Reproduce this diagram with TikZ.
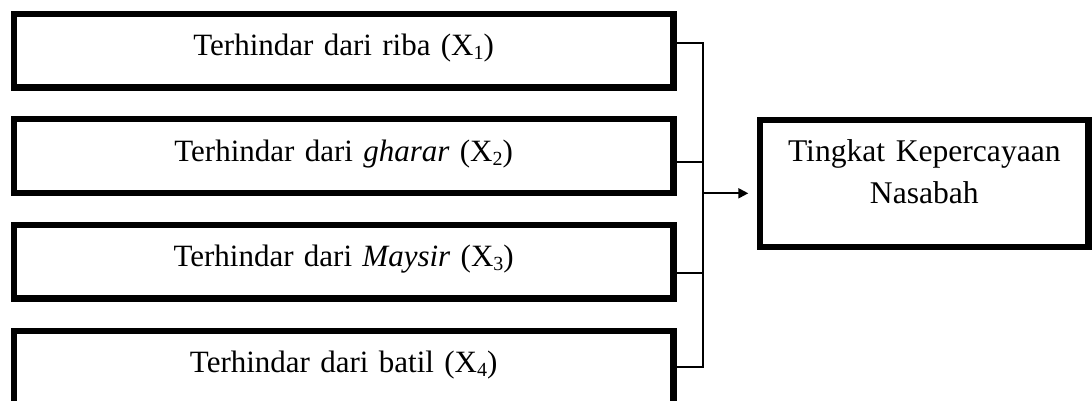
\documentclass[tikz,border=0pt]{standalone}
\usepackage{fontspec}
\setmainfont{Liberation Serif}
\usetikzlibrary{arrows.meta}
\newcommand\xsub[1]{\raisebox{-4pt}{\fontsize{20}{20}\selectfont #1}}
\begin{document}
\begin{tikzpicture}[x=1pt,y=-1pt,
  thickbox/.style={draw=black, line width=6.5pt, inner sep=0pt, align=center,
    anchor=north west, text height=41.75pt,
    font=\fontsize{31}{41.6}\selectfont},
  inbox/.style={thickbox, text width=659.4pt, text depth=31.75pt},
  outbox/.style={thickbox, text width=328.75pt, text depth=85.05pt,
    font=\fontsize{31.6}{41.6}\selectfont},
  conn/.style={draw=black, line width=2pt},
  arr/.style={conn, -{Triangle[length=10pt,width=10pt]}}
]
\useasboundingbox (0,0) rectangle (1092,401);
\clip (0,0) rectangle (1092,401);
\node[inbox] (b1) at (10.7,10.7) {Terhindar dari riba (X\xsub{1})};
\node[inbox] (b2) at (10.7,116) {Terhindar dari \textit{gharar} (X\xsub{2})};
\node[inbox] (b3) at (10.7,221.7) {Terhindar dari \textit{Maysir} (X\xsub{3})};
\node[inbox, text depth=90pt] (b4) at (10.7,327.7) {Terhindar dari batil (X\xsub{4})};
\node[outbox] (r) at (756.7,116.7) {Tingkat Kepercayaan\\Nasabah};
\coordinate (j1) at (702.7,42.7);
\coordinate (j2) at (702.7,161.7);
\coordinate (j3) at (702.7,272.7);
\coordinate (j4) at (702.7,366.7);
\coordinate (ja) at (702.7,193.3);
\draw[conn] (b1.east |- j1) -- (j1) -- (j4) -- (b4.east |- j4);
\draw[conn] (b2.east |- j2) -- (j2);
\draw[conn] (b3.east |- j3) -- (j3);
\draw[arr, shorten >=8.4pt] (ja) -- (ja -| r.west);
\end{tikzpicture}
\end{document}
